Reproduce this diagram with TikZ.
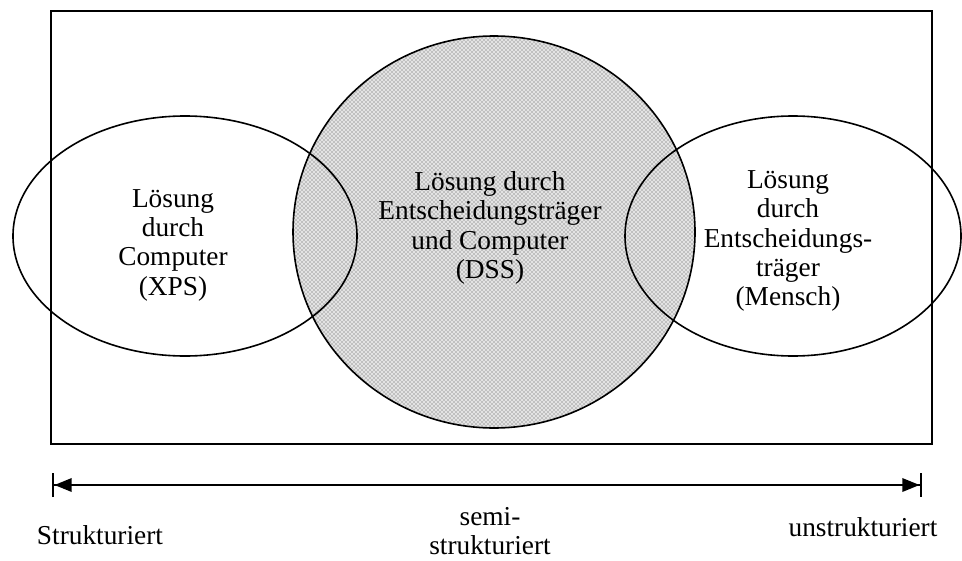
\documentclass[tikz,border=0pt]{standalone}
\usepackage{fontspec}
\setmainfont{Liberation Serif}
\usetikzlibrary{arrows.meta,patterns}

\tikzset{every picture/.style={line width=1.2pt}}
\tikzset{
  lbl/.style={align=center,font=\fontsize{20.5}{22}\selectfont,inner sep=0pt},
  scalearrow/.style={line width=1.8pt,
    {Bar[width=18pt,line width=1.8pt]Triangle[length=13pt,width=10pt]}-{Triangle[length=13pt,width=10pt]Bar[width=18pt,line width=1.8pt]}},
}

\begin{document}
\begin{tikzpicture}[x=0.75pt,y=0.75pt,yscale=-1,xscale=1]
	\useasboundingbox (0,0) rectangle (962,560);

	%Shape: Circle [id:dss]
	\fill [gray!22] (494,232) circle [x radius=201, y radius=196];
	\fill [pattern=crosshatch dots, pattern color=black!70] (494,232) circle [x radius=201, y radius=196];
	\draw (494,232) circle [x radius=201, y radius=196];
	%Shape: Rectangle [id:frame]
	\draw (51,11) rectangle (932,444);
	%Shape: Ellipse [id:xps]
	\draw (185,236) ellipse [x radius=172, y radius=120];
	%Shape: Ellipse [id:mensch]
	\draw (793,236) ellipse [x radius=168, y radius=120];

	% Text Node
	\node [lbl] (xps) at (173,245) {Lösung\\durch\\Computer\\(XPS)};
	% Text Node
	\node [lbl] (dss) at (490,228) {Lösung durch\\Entscheidungsträger\\und Computer\\(DSS)};
	% Text Node
	\node [lbl] (mensch) at (788,241) {Lösung\\durch\\Entscheidungs-\\träger\\(Mensch)};

	%Straight Lines [id:scale]
	\coordinate (lend) at (52,485);
	\coordinate (rend) at (922,485);
	\draw [scalearrow] (lend) -- (rend);

	% Text Node
	\node [lbl] (struk) at (100,535) {Strukturiert};
	% Text Node
	\node [lbl] (semi) at (490,531) {semi-\\strukturiert};
	% Text Node
	\node [lbl] (unstruk) at (863,527) {unstrukturiert};

\end{tikzpicture}
\end{document}
